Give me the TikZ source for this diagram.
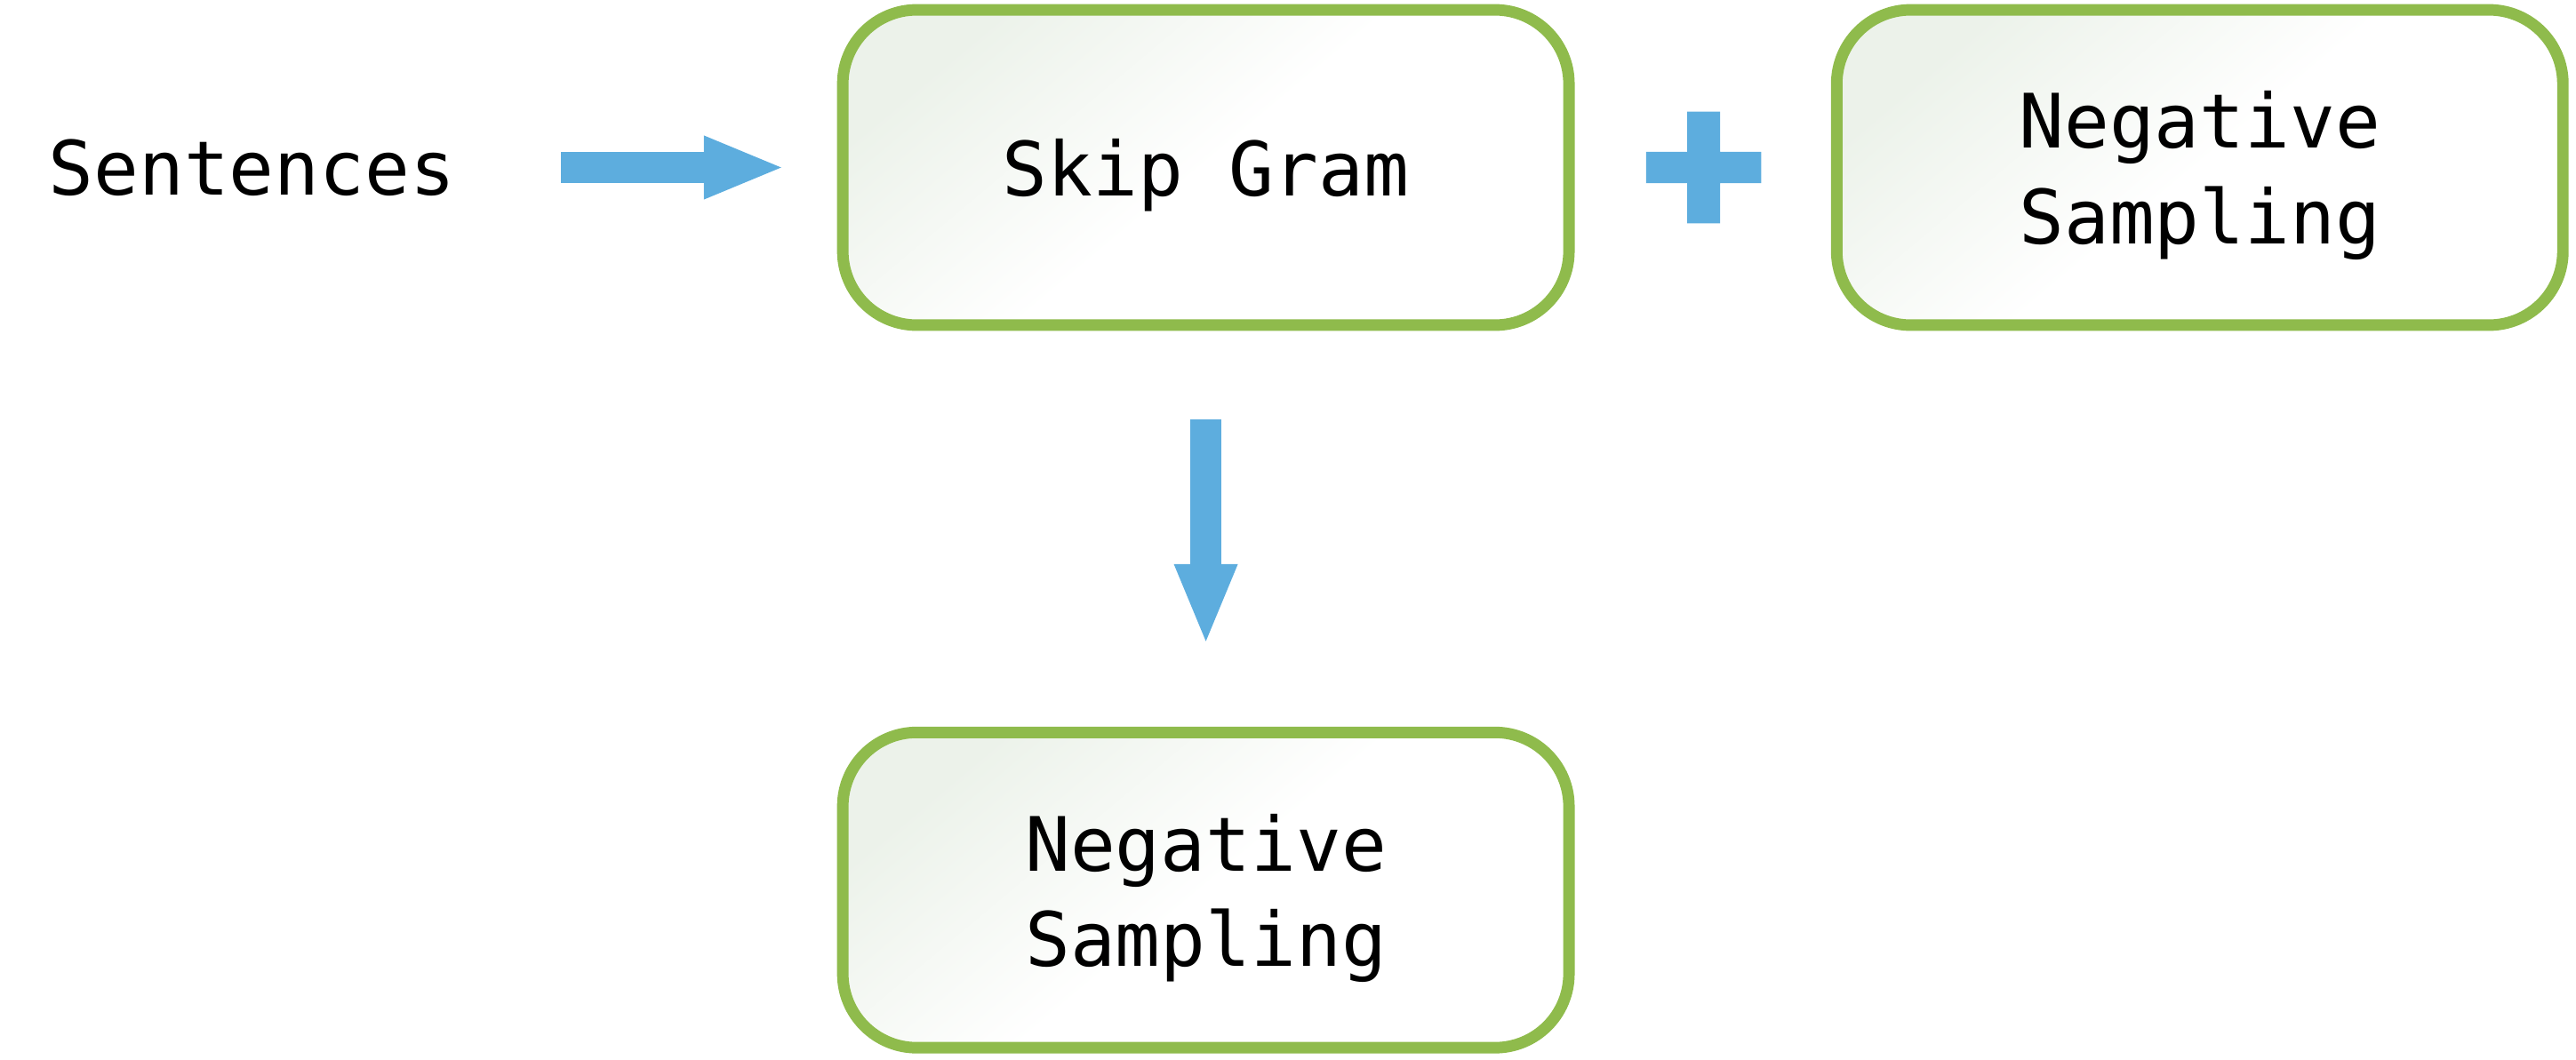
\documentclass[tikz,border=0pt]{standalone}
\usepackage{fontspec}
\setmonofont{DejaVu Sans Mono}
\usetikzlibrary{positioning,arrows.meta}
\definecolor{boxgreen}{RGB}{143,187,76}
\definecolor{boxtint}{RGB}{236,242,234}
\definecolor{flowblue}{RGB}{93,173,222}
\begin{document}
\begin{tikzpicture}[x=0.2mm,y=-0.2mm,font=\ttfamily\fontsize{26}{33}\selectfont,
  stage/.style={draw=boxgreen,line width=1.4mm,rounded corners=9mm,minimum width=88.4mm,minimum height=38.4mm,
    top color=boxtint,bottom color=white,middle color=white,shading angle=40,align=center,text depth=0pt},
  flow/.style={draw=flowblue,line width=3.8mm,-{Triangle[width=7.8mm,length=9.4mm,line width=0pt]}}]
\useasboundingbox (0,0) rectangle (1568,645);
\node[stage] (skipgram) at (734,102) {Skip Gram};
\node[stage,right=31.2mm of skipgram] (negside) {Negative\\Sampling};
\node[stage,below=48.2mm of skipgram] (negbottom) {Negative\\Sampling};
\node[inner sep=0pt,left=46.4mm of skipgram] (sentences) {Sentences};
\coordinate[right=15.7mm of skipgram] (plus);
\draw[flow] ([xshift=12.8mm]sentences.east) -- ([xshift=-6.8mm]skipgram.west);
\draw[flow] ([yshift=-10.8mm]skipgram.south) -- ([yshift=10.4mm]negbottom.north);
\fill[flowblue] (plus) +(-7mm,-1.9mm) rectangle +(7mm,1.9mm)
  (plus) +(-2mm,-6.8mm) rectangle +(2mm,6.8mm);
\end{tikzpicture}
\end{document}
